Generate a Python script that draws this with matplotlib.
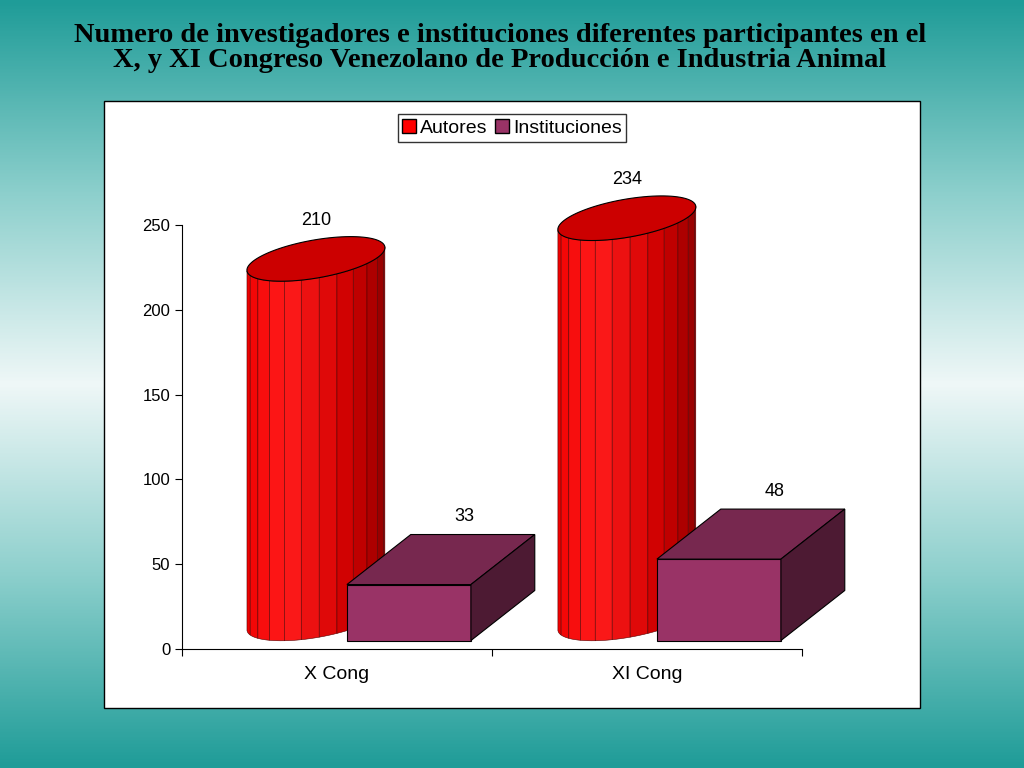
import numpy as np
import matplotlib.pyplot as plt
from matplotlib.patches import Polygon, Rectangle
from matplotlib.colors import LinearSegmentedColormap

plt.rcParams["font.family"] = "Liberation Sans"

categories = ["X Cong", "XI Cong"]
autores = [210, 234]
instituciones = [33, 48]
yticks = [0, 50, 100, 150, 200, 250]

fig = plt.figure(figsize=(10.24, 7.68), dpi=100)

# gradient background
bg = fig.add_axes([0, 0, 1, 1])
grad = np.abs(np.linspace(-1, 1, 256))[:, None]
cmap = LinearSegmentedColormap.from_list("bg", ["#eef7f7", "#8ccfcc", "#1f9c98"])
bg.imshow(grad, aspect="auto", cmap=cmap, extent=[0, 1, 0, 1])
bg.axis("off")

fig.text(0.488, 0.938, "Numero de investigadores e instituciones diferentes participantes en el\n"
         "X, y XI Congreso Venezolano de Producción e Industria Animal",
         ha="center", va="center", fontsize=20.5, fontweight="bold",
         family="Liberation Serif", linespacing=1.0)

fig.patches.append(Rectangle((104/1024, 60/768), 816/1024, 607/768, transform=fig.transFigure,
                             facecolor="white", edgecolor="black", lw=1, zorder=1))

ax = fig.add_axes([182/1024, 119/768, 620/1024, 424/768])
ax.set_zorder(2)
ax.patch.set_alpha(0)
ax.set_xlim(0, 2)
ax.set_ylim(0, 250)
PX, PY = 310.0, 424/250.0  # pixels per data unit
base = 5
ddx, ddy = 0.206, 29.5

def ell(cx, cy, t):
    a, b, th = 70, 19, np.radians(10)
    x = a*np.cos(t)*np.cos(th) - b*np.sin(t)*np.sin(th)
    y = a*np.cos(t)*np.sin(th) + b*np.sin(t)*np.cos(th)
    return cx + x/PX, cy + y/PY

reds = LinearSegmentedColormap.from_list("r", ["#ee0000", "#ff1a1a", "#cc0000", "#880000"])
cyl_x = [0.432, 1.435]
for cx, v in zip(cyl_x, autores):
    cb = base + 13
    ct = base + v + 15
    ts = np.linspace(np.pi, 2*np.pi, 13)
    for i in range(12):
        t = np.linspace(ts[i], ts[i+1], 5)
        xb, yb = ell(cx, cb, t)
        xt, yt = ell(cx, ct, t[::-1])
        ax.add_patch(Polygon(np.column_stack([np.r_[xb, xt], np.r_[yb, yt]]),
                             facecolor=reds(i/11), edgecolor="#550000", lw=0.4, clip_on=False, zorder=3))
    t = np.linspace(0, 2*np.pi, 100)
    xt, yt = ell(cx, ct, t)
    ax.add_patch(Polygon(np.column_stack([xt, yt]), facecolor="#cc0000", edgecolor="black",
                         lw=0.8, clip_on=False, zorder=4))
    ax.text(cx, ct + 20, str(v), ha="center", fontsize=13, zorder=6)

box_x = [0.532, 1.532]
w = 0.4
for x0, v in zip(box_x, instituciones):
    top = base + v
    ax.add_patch(Polygon([(x0, base), (x0+w, base), (x0+w, top), (x0, top)],
                         facecolor="#993366", edgecolor="black", lw=0.8, clip_on=False, zorder=5))
    ax.add_patch(Polygon([(x0, top), (x0+w, top), (x0+w+ddx, top+ddy), (x0+ddx, top+ddy)],
                         facecolor="#77284f", edgecolor="black", lw=0.8, clip_on=False, zorder=5))
    ax.add_patch(Polygon([(x0+w, base), (x0+w+ddx, base+ddy), (x0+w+ddx, top+ddy), (x0+w, top)],
                         facecolor="#4d1a33", edgecolor="black", lw=0.8, clip_on=False, zorder=5))
    ax.text(x0 + w - 0.02, top + ddy + 8, str(v), ha="center", fontsize=13, zorder=6)

ax.set_yticks(yticks)
ax.tick_params(axis="y", labelsize=12, direction="out", length=5)
ax.set_xticks([0, 1, 2])
ax.set_xticklabels([])
ax.tick_params(axis="x", direction="out", length=5)
for i, c in enumerate(categories):
    ax.text(i + 0.5, -15, c, ha="center", va="center", fontsize=14)
ax.spines["top"].set_visible(False)
ax.spines["right"].set_visible(False)

h1 = Rectangle((0, 0), 1, 1, facecolor="#ff0000", edgecolor="black")
h2 = Rectangle((0, 0), 1, 1, facecolor="#993366", edgecolor="black")
fig.legend([h1, h2], ["Autores", "Instituciones"], loc="center", bbox_to_anchor=(512/1024, 640/768),
           ncol=2, fontsize=14, frameon=True, fancybox=False, edgecolor="black",
           handlelength=0.7, handleheight=0.7, handletextpad=0.2, columnspacing=0.4, borderpad=0.25)

fig.savefig("out.png", dpi=100)
